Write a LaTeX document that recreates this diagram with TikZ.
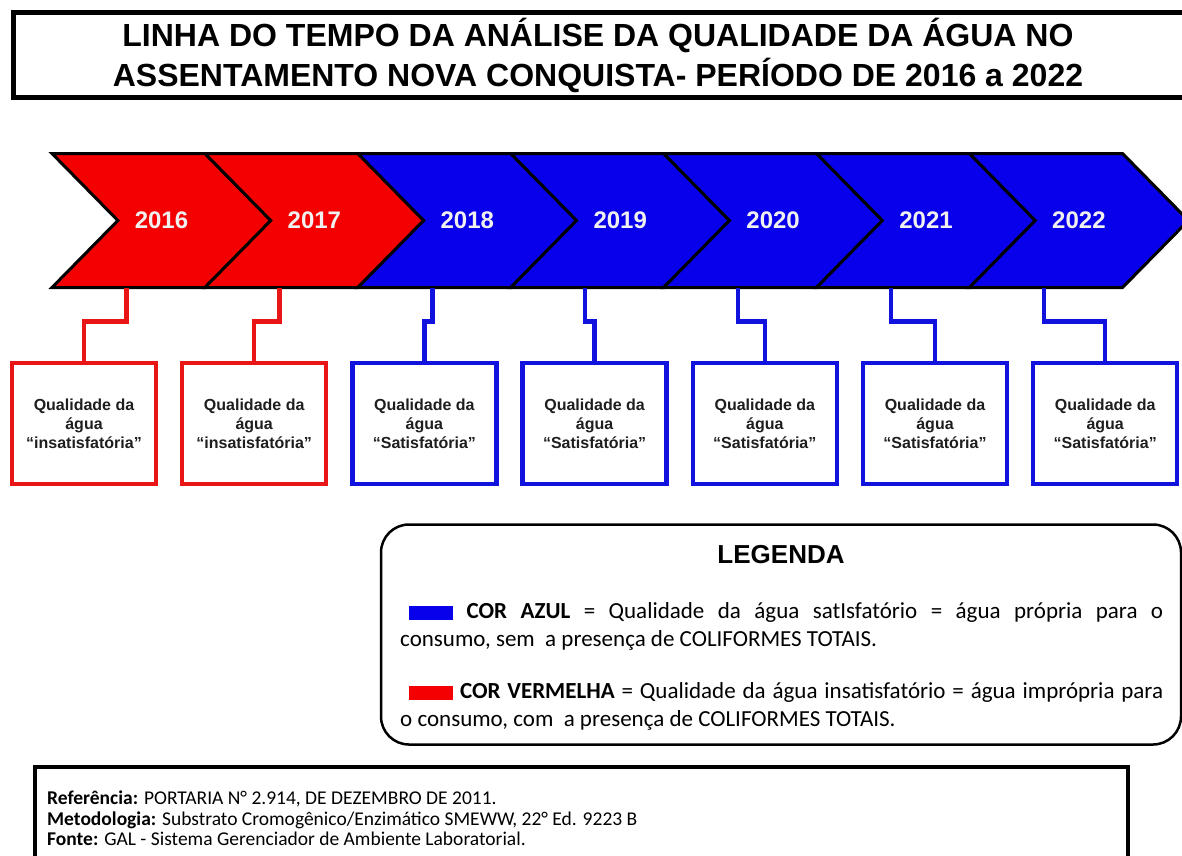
\documentclass[tikz,border=0pt]{standalone}
\usepackage{fontspec}
\setmainfont{Carlito}
\newfontfamily\headfont{Liberation Sans}
\usetikzlibrary{positioning, shapes.symbols}
\definecolor{chevred}{RGB}{245,0,0}
\definecolor{chevblue}{RGB}{8,0,235}
\definecolor{boxred}{RGB}{232,22,22}
\definecolor{boxblue}{RGB}{18,18,222}
\definecolor{ink}{RGB}{30,30,30}
\tikzstyle{chevron} = [draw=black, line width=3pt, signal, signal from=west,
    signal to=east, signal pointer angle=91, minimum width=219pt,
    minimum height=134pt, inner sep=0pt, outer sep=0pt, text=white!94!black,
    font=\headfont\bfseries\fontsize{24}{28}\selectfont]
\tikzstyle{qbox} = [draw, line width=4.5pt, fill=white, minimum width=144pt,
    minimum height=121pt, inner sep=0pt, outer sep=0pt, align=center, text=ink,
    font=\headfont\bfseries\fontsize{16}{19}\selectfont]
\tikzstyle{linkred} = [draw=boxred, line width=4.5pt]
\tikzstyle{linkblue} = [draw=boxblue, line width=4.5pt]
\newcommand{\corbox}[1]{\textcolor{#1}{\rule[-1.5pt]{44pt}{14pt}}}

\begin{document}
\begin{tikzpicture}[x=1pt, y=-1pt, node distance=152.9pt]
        \useasboundingbox (0,0) rectangle (1182,855);

        % titulo
        \draw[line width=5pt] (13.5,12.5) rectangle (1200,97.5);
        \node[
            align=center,
            font=\headfont\bfseries\fontsize{32}{40}\selectfont
        ](titulo) at (598,55){LINHA DO TEMPO DA ANÁLISE DA QUALIDADE DA ÁGUA NO\\
            ASSENTAMENTO NOVA CONQUISTA- PERÍODO DE 2016 a 2022};

        % linha do tempo
        \node[chevron, fill=chevred](c2016) at (161.5,220.5){2016};
        \node[chevron, fill=chevred, right of=c2016](c2017){2017};
        \node[chevron, fill=chevblue, right of=c2017](c2018){2018};
        \node[chevron, fill=chevblue, right of=c2018](c2019){2019};
        \node[chevron, fill=chevblue, right of=c2019](c2020){2020};
        \node[chevron, fill=chevblue, right of=c2020](c2021){2021};
        \node[chevron, fill=chevblue, right of=c2021](c2022){2022};

        % resultados
        \node[qbox, draw=boxred](q2016) at (84,423.5){Qualidade da\\água\\“insatisfatória”};
        \node[
            qbox, draw=boxred,
            right of=q2016,
            node distance=170.2pt
        ](q2017){Qualidade da\\água\\“insatisfatória”};
        \node[
            qbox, draw=boxblue,
            right of=q2017,
            node distance=170.2pt
        ](q2018){Qualidade da\\água\\“Satisfatória”};
        \node[
            qbox, draw=boxblue,
            right of=q2018,
            node distance=170.2pt
        ](q2019){Qualidade da\\água\\“Satisfatória”};
        \node[
            qbox, draw=boxblue,
            right of=q2019,
            node distance=170.2pt
        ](q2020){Qualidade da\\água\\“Satisfatória”};
        \node[
            qbox, draw=boxblue,
            right of=q2020,
            node distance=170.2pt
        ](q2021){Qualidade da\\água\\“Satisfatória”};
        \node[
            qbox, draw=boxblue,
            right of=q2021,
            node distance=170.2pt
        ](q2022){Qualidade da\\água\\“Satisfatória”};

        \draw[linkred] ([xshift=-35pt]c2016.south) -- ++(0,34) -| (q2016.north);
        \draw[linkred] ([xshift=-35pt]c2017.south) -- ++(0,34) -| (q2017.north);
        \draw[linkblue] ([xshift=-35pt]c2018.south) -- ++(0,34) -| (q2018.north);
        \draw[linkblue] ([xshift=-35pt]c2019.south) -- ++(0,34) -| (q2019.north);
        \draw[linkblue] ([xshift=-35pt]c2020.south) -- ++(0,34) -| (q2020.north);
        \draw[linkblue] ([xshift=-35pt]c2021.south) -- ++(0,34) -| (q2021.north);
        \draw[linkblue] ([xshift=-35pt]c2022.south) -- ++(0,34) -| (q2022.north);

        % legenda
        \node[
            draw, line width=2.5pt,
            rounded corners=28pt,
            minimum width=800pt, minimum height=220pt,
            inner sep=0pt, outer sep=0pt
        ](legenda) at (781,634.5){};

        \node[
            inner sep=0pt,
            below=21pt of legenda.north,
            font=\headfont\bfseries\fontsize{26}{30}\selectfont
        ](legtitulo){LEGENDA};

        \node[
            anchor=north west, inner sep=0pt,
            text width=763pt, align=justify,
            below right=78pt and 19pt of legenda.north west,
            font=\fontsize{23}{28}\selectfont
        ](legazul){\hspace*{9pt}\corbox{chevblue} \textbf{COR AZUL} = Qualidade da água satIsfatório = água própria para o\linebreak
            consumo, sem\ \ a presença de COLIFORMES TOTAIS.};

        \node[
            inner sep=0pt,
            text width=763pt, align=justify,
            below=32pt of legazul,
            font=\fontsize{23}{28}\selectfont
        ](legverm){\hspace*{9pt}\corbox{chevred} \textbf{COR VERMELHA} = Qualidade da água insatisfatório = água imprópria para\linebreak
            o consumo, com\ \ a presença de COLIFORMES TOTAIS.};

        % notas
        \node[
            draw, line width=4pt,
            minimum width=1093pt, minimum height=140pt,
            inner sep=0pt, outer sep=0pt
        ](notas) at (581.5,837){};

        \node[
            anchor=north west, inner sep=0pt,
            align=left,
            below right=24pt and 12pt of notas.north west,
            font=\fontsize{19.5}{20.5}\selectfont
        ](fontes){\textbf{Referência:} PORTARIA N° 2.914, DE DEZEMBRO DE 2011.\\
            \textbf{Metodologia:} Substrato Cromogênico/Enzimático SMEWW, 22° Ed. 9223 B\\
            \textbf{Fonte:} GAL - Sistema Gerenciador de Ambiente Laboratorial.};
    \end{tikzpicture}
\end{document}
